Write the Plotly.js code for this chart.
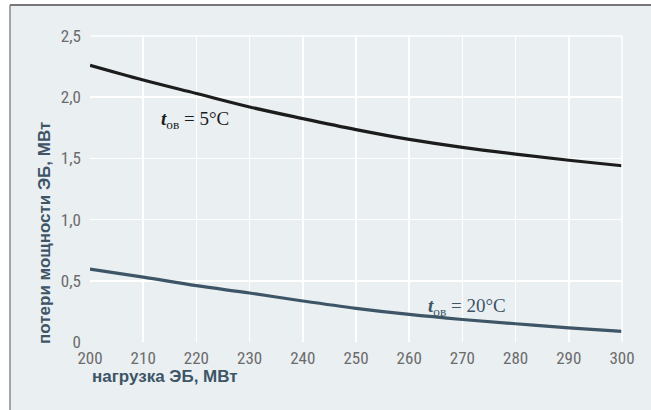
<!DOCTYPE html>
<html>
<head>
<meta charset="utf-8">
<script src="https://cdn.plot.ly/plotly-3.0.1.min.js"></script>
<style>
html,body{margin:0;padding:0;background:#ffffff;overflow:hidden;}
#chart{width:651px;height:410px;}
</style>
</head>
<body>
<div id="chart"></div>
<script>
const load = [200, 210, 220, 230, 240, 250, 260, 270, 280, 290, 300];
const loss5 = [2.26, 2.14, 2.03, 1.92, 1.825, 1.735, 1.655, 1.59, 1.535, 1.485, 1.44];
const loss20 = [0.595, 0.53, 0.46, 0.40, 0.335, 0.275, 0.225, 0.184, 0.149, 0.116, 0.086];
const xTicks = [200, 210, 220, 230, 240, 250, 260, 270, 280, 290, 300];
const yTicks = [0, 0.5, 1.0, 1.5, 2.0, 2.5];
const yTickText = ["0", "0,5", "1,0", "1,5", "2,0", "2,5"];
const label5 = "<i><b>t</b></i><sub>ов</sub> = 5°C";
const label20 = "<i><b>t</b></i><sub>ов</sub> = 20°C";
const xTitle = "нагрузка ЭБ, МВт";
const yTitle = "потери мощности ЭБ, МВт";

const tickFont = {family: "Liberation Sans Narrow, Roboto Condensed, Liberation Sans, sans-serif", size: 17, color: "#6b6b6b"};
const titleFont = {family: "Liberation Sans Narrow, Liberation Sans, sans-serif", size: 17, color: "#3d5566", weight: "bold"};

const traces = [
  {x: load, y: loss5, mode: "lines", line: {color: "#1c1c1c", width: 3.2, shape: "spline"}, hoverinfo: "skip", showlegend: false},
  {x: load, y: loss20, mode: "lines", line: {color: "#3d5566", width: 3.2, shape: "spline"}, hoverinfo: "skip", showlegend: false}
];

const layout = {
  width: 651, height: 410,
  margin: {l: 90, r: 29, t: 36, b: 68},
  paper_bgcolor: "#ffffff",
  plot_bgcolor: "#d3dee5",
  xaxis: {
    range: [200, 300], tickvals: xTicks, ticktext: xTicks.map(String),
    showgrid: true, gridcolor: "#ffffff", gridwidth: 1.5,
    zeroline: false, showline: false, ticks: "", tickfont: tickFont,
    ticklabelstandoff: 4, fixedrange: true
  },
  yaxis: {
    range: [0, 2.5], tickvals: yTicks, ticktext: yTickText,
    showgrid: true, gridcolor: "#ffffff", gridwidth: 1.5,
    zeroline: false, showline: false, ticks: "", tickfont: tickFont,
    ticklabelstandoff: 8, fixedrange: true
  },
  shapes: [
    {type: "rect", xref: "paper", yref: "paper", layer: "below",
     x0: (10 - 90) / 532, x1: 1.3, y0: -0.5, y1: (342 - 5) / 306,
     fillcolor: "#eaeff2", line: {width: 0}},
    {type: "line", xref: "paper", yref: "paper", layer: "below",
     x0: (10 - 90) / 532, x1: 1.3, y0: (342 - 5) / 306, y1: (342 - 5) / 306,
     line: {color: "#777777", width: 2}},
    {type: "line", xref: "paper", yref: "paper", layer: "below",
     x0: (10 - 90) / 532, x1: (10 - 90) / 532, y0: -0.5, y1: (342 - 5) / 306,
     line: {color: "#7a7a7a", width: 1.3}},
    {type: "line", xref: "paper", yref: "paper", layer: "above",
     x0: 0, x1: 1, y0: 1, y1: 1, line: {color: "#ffffff", width: 1.5}},
    {type: "line", xref: "paper", yref: "paper", layer: "above",
     x0: 1, x1: 1, y0: 0, y1: 1, line: {color: "#ffffff", width: 1.5}}
  ],
  annotations: [
    {x: 219.8, y: 1.81, xref: "x", yref: "y", text: label5, showarrow: false,
     font: {family: "Liberation Serif, DejaVu Serif, serif", size: 19, color: "#1c1c1c"}},
    {x: 270.8, y: 0.29, xref: "x", yref: "y", text: label20, showarrow: false,
     font: {family: "Liberation Serif, DejaVu Serif, serif", size: 19, color: "#3d5566"}},
    {x: 0, y: (342 - 376) / 306, xref: "paper", yref: "paper", xanchor: "left", yanchor: "middle",
     text: xTitle, showarrow: false, font: titleFont},
    {x: (45 - 90) / 532, y: (342 - 233) / 306, xref: "paper", yref: "paper", xanchor: "center", yanchor: "middle",
     text: yTitle, textangle: -90, showarrow: false, font: titleFont}
  ]
};

Plotly.newPlot("chart", traces, layout, {displayModeBar: false, staticPlot: true});
</script>
</body>
</html>
